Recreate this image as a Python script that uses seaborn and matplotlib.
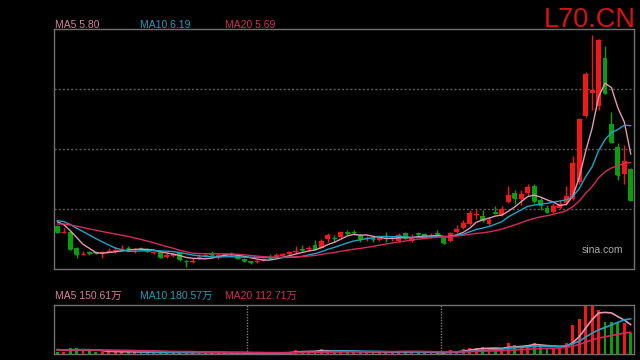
import numpy as np
import pandas as pd
import matplotlib
matplotlib.use("Agg")
import matplotlib.pyplot as plt
import seaborn as sns

# closes before the visible window, only used to seed the moving averages
hist_close = [4.78, 4.80, 4.79, 4.82, 4.85, 4.83, 4.86, 4.84, 4.85, 4.85,
              4.88, 4.92, 4.95, 4.94, 4.94, 4.96, 4.93, 4.92, 4.93]
hist_vol = [18, 22, 20, 17, 19, 21, 18, 16, 20, 22, 19, 21, 24, 20, 18, 26, 30, 25, 22]

opens = [4.84, 4.76, 4.77, 4.56, 4.47, 4.50, 4.50, 4.49, 4.51, 4.52,
         4.53, 4.56, 4.53, 4.55, 4.54, 4.49, 4.50, 4.44, 4.45, 4.49,
         4.39, 4.37, 4.42, 4.45, 4.47, 4.44, 4.47, 4.47, 4.45, 4.41,
         4.38, 4.37, 4.40, 4.44, 4.44, 4.45, 4.47, 4.50, 4.54, 4.54,
         4.60, 4.56, 4.67, 4.69, 4.70, 4.76, 4.77, 4.73, 4.68, 4.68,
         4.66, 4.69, 4.67, 4.65, 4.75, 4.65, 4.75, 4.74, 4.70, 4.75,
         4.69, 4.65, 4.76, 4.82, 4.87, 4.99, 4.98, 4.87, 5.03, 4.99,
         5.16, 5.27, 5.20, 5.28, 5.37, 5.19, 5.08, 5.03, 5.08, 5.14,
         5.20, 5.42, 6.28, 6.58, 6.41, 7.04, 6.18, 5.88, 5.53, 5.59]
closes = [4.76, 4.77, 4.54, 4.47, 4.48, 4.49, 4.49, 4.50, 4.52, 4.53,
          4.54, 4.55, 4.54, 4.54, 4.51, 4.50, 4.44, 4.46, 4.47, 4.41,
          4.38, 4.38, 4.44, 4.46, 4.46, 4.46, 4.48, 4.48, 4.42, 4.39,
          4.37, 4.39, 4.41, 4.43, 4.46, 4.47, 4.50, 4.52, 4.53, 4.56,
          4.54, 4.65, 4.72, 4.68, 4.76, 4.75, 4.76, 4.67, 4.69, 4.67,
          4.69, 4.68, 4.68, 4.72, 4.69, 4.69, 4.74, 4.71, 4.72, 4.74,
          4.62, 4.75, 4.81, 4.88, 5.01, 5.00, 4.92, 4.92, 5.02, 5.07,
          5.25, 5.21, 5.26, 5.35, 5.17, 5.12, 5.03, 5.11, 5.13, 5.24,
          5.67, 6.24, 6.84, 6.63, 7.28, 6.58, 5.95, 5.51, 5.70, 5.18]
highs = [4.86, 4.82, 4.78, 4.57, 4.52, 4.52, 4.52, 4.51, 4.56, 4.57,
         4.60, 4.58, 4.55, 4.57, 4.55, 4.52, 4.51, 4.50, 4.49, 4.50,
         4.40, 4.43, 4.47, 4.49, 4.51, 4.49, 4.49, 4.50, 4.48, 4.43,
         4.39, 4.40, 4.43, 4.47, 4.49, 4.49, 4.52, 4.58, 4.59, 4.58,
         4.66, 4.67, 4.75, 4.73, 4.77, 4.79, 4.79, 4.74, 4.71, 4.70,
         4.72, 4.76, 4.70, 4.75, 4.76, 4.74, 4.77, 4.75, 4.75, 4.79,
         4.70, 4.77, 4.86, 4.92, 5.05, 5.06, 5.05, 4.96, 5.10, 5.10,
         5.37, 5.31, 5.32, 5.39, 5.39, 5.22, 5.12, 5.14, 5.19, 5.37,
         5.76, 6.25, 6.86, 7.35, 7.29, 7.20, 6.34, 5.93, 5.90, 5.60]
lows = [4.75, 4.75, 4.53, 4.43, 4.46, 4.46, 4.47, 4.43, 4.50, 4.49,
        4.51, 4.52, 4.49, 4.53, 4.50, 4.47, 4.43, 4.43, 4.44, 4.39,
        4.31, 4.36, 4.41, 4.44, 4.43, 4.41, 4.45, 4.44, 4.41, 4.37,
        4.35, 4.36, 4.39, 4.41, 4.43, 4.44, 4.46, 4.49, 4.51, 4.52,
        4.53, 4.55, 4.64, 4.64, 4.69, 4.73, 4.73, 4.63, 4.65, 4.64,
        4.65, 4.64, 4.65, 4.64, 4.67, 4.64, 4.70, 4.70, 4.69, 4.72,
        4.61, 4.64, 4.75, 4.81, 4.86, 4.93, 4.89, 4.86, 5.00, 4.97,
        5.15, 5.13, 5.12, 5.23, 5.14, 5.05, 5.01, 5.02, 5.07, 5.12,
        5.18, 5.40, 6.27, 6.36, 6.36, 6.57, 5.93, 5.45, 5.40, 5.18]
# volume in 万 shares
volumes = [12, 12, 31, 31, 17, 17, 10, 12, 12, 12,
           12, 10, 10, 7, 10, 7, 10, 7, 7, 10,
           9, 7, 9, 7, 7, 9, 5, 5, 7, 7,
           5, 5, 5, 5, 7, 7, 9, 21, 17, 12,
           12, 24, 17, 12, 15, 12, 12, 12, 10, 10,
           12, 10, 9, 15, 12, 12, 10, 7, 5, 5,
           7, 21, 17, 24, 31, 31, 38, 24, 29, 24,
           58, 46, 38, 46, 58, 46, 29, 29, 29, 58,
           149, 180, 252, 249, 227, 166, 166, 158, 158, 110]

price_labels = ["MA5 5.80", "MA10 6.19", "MA20 5.69"]
vol_labels = ["MA5 150.61万", "MA10 180.57万", "MA20 112.71万"]
ticker = "L70.CN"

RED = "#f21818"
GREEN = "#0a9e0a"
MA_COLORS = {5: "#e597b2", 10: "#1ea3c4", 20: "#d42a5e"}
TXT_COLORS = ["#d77f9b", "#1e9dbb", "#d42a5c"]
BORDER = "#707070"


def main():
    sns.set_theme(style="dark", rc={"axes.facecolor": "black",
                                    "figure.facecolor": "black"})
    plt.rcParams['font.family'] = ['Liberation Sans', 'Noto Sans CJK SC']

    n = len(closes)
    idx = np.arange(n)
    o = np.array(opens)
    c = np.array(closes)
    colors = [RED if c[i] >= o[i] else GREEN for i in range(n)]

    all_close = pd.Series(hist_close + closes)
    all_vol = pd.Series(hist_vol + volumes)
    k = len(hist_close)

    fig = plt.figure(figsize=(6.4, 3.6), dpi=100)
    ax = fig.add_axes([54/640, 91/360, 580/640, 240/360])
    vax = fig.add_axes([54/640, 6/360, 580/640, 49/360])

    # price panel
    ylo, yhi = 4.280, 7.424
    ax.set_xlim(-0.5, n - 0.5)
    ax.set_ylim(ylo, yhi)
    for g in np.linspace(ylo, yhi, 5)[1:-1]:
        ax.axhline(g, color="#5c5c5c", lw=1, ls=(0, (1.5, 1.5)), zorder=0)
    ax.vlines(idx, lows, highs, colors=colors, lw=1, zorder=2)
    ax.bar(idx, np.abs(c - o), bottom=np.minimum(o, c), width=0.75,
           color=colors, linewidth=0, zorder=3)
    ax.hlines(c, idx - 0.37, idx + 0.37, colors=colors, lw=1, zorder=3)
    for w, col in MA_COLORS.items():
        ma = all_close.rolling(w).mean().iloc[k:].values
        sns.lineplot(x=idx, y=ma, ax=ax, color=col, lw=1, legend=False, zorder=4)

    # volume panel
    vax.set_xlim(-0.5, n - 0.5)
    vax.set_ylim(0, 253)
    vax.bar(idx, volumes, width=0.45, color=colors, linewidth=0, zorder=2)
    for w, col in MA_COLORS.items():
        ma = all_vol.rolling(w).mean().iloc[k:].values
        sns.lineplot(x=idx, y=ma, ax=vax, color=col, lw=1.2, legend=False, zorder=3)
    for xv in [29.5, 59.5]:
        vax.axvline(xv, color="#7a7a7a", lw=1, ls=(0, (1, 1)), zorder=0)

    for a in [ax, vax]:
        a.set_xticks([])
        a.set_yticks([])
        a.set_xlabel("")
        a.set_ylabel("")
        a.grid(False)
        for s in a.spines.values():
            s.set_visible(True)
            s.set_color(BORDER)
            s.set_linewidth(1)
    vax.spines["top"].set_linestyle((0, (1, 1)))

    # texts
    xs = [55, 140, 225]
    for x, t, col in zip(xs, price_labels, TXT_COLORS):
        fig.text(x/640, 1 - 27.5/360, t, color=col, fontsize=7.5, va="baseline")
    for x, t, col in zip(xs, vol_labels, TXT_COLORS):
        fig.text(x/640, 1 - 299/360, t, color=col, fontsize=7.5, va="baseline")
    fig.text(636/640, 1 - 27/360, ticker, color="#dd1111", fontsize=19.5,
             ha="right", va="baseline")
    fig.text(582/640, 1 - 253/360, "sina.com", color="#a8a8a8", fontsize=7.5,
             va="baseline")

    fig.savefig("out.png", dpi=100, facecolor="black")


if __name__ == "__main__":
    main()
